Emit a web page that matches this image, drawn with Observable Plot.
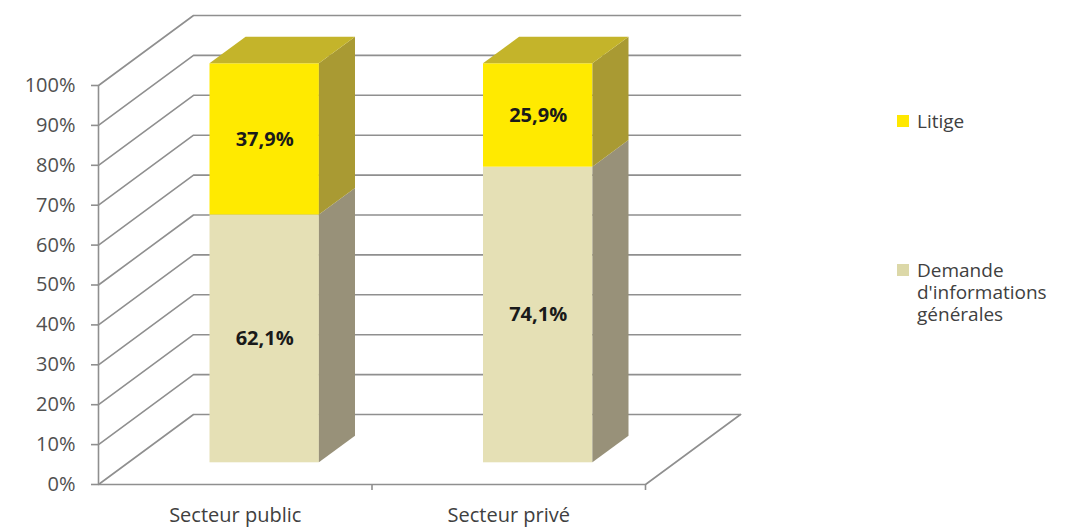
<!DOCTYPE html>
<html>
<head>
<meta charset="utf-8">
<script src="https://cdn.jsdelivr.net/npm/d3@7"></script>
<script src="https://cdn.jsdelivr.net/npm/@observablehq/plot@0.6"></script>
<style>
  html, body { margin: 0; padding: 0; background: #fff; }
  #wrap { position: relative; width: 1087px; height: 529px; font-family: "Open Sans", sans-serif; }
  #legend { position: absolute; left: 897px; top: 0; color: #404040; font-size: 19px; }
  .item { position: absolute; left: 0; display: flex; align-items: flex-start; width: 170px; line-height: 22px; }
  .sw { width: 12px; height: 12px; margin-top: 5px; margin-right: 8px; flex: none; }
  .lab { width: 140px; }
</style>
</head>
<body>
<div id="wrap"><div id="legend"></div></div>
<script>
// ---- data ----
const categories = ["Secteur public", "Secteur privé"];
const seriesNames = ["Demande d'informations générales", "Litige"]; // bottom -> top
const demande = [62.1, 74.1];
const litige = [37.9, 25.9];
const yTicks = [0, 10, 20, 30, 40, 50, 60, 70, 80, 90, 100];

// ---- styles / layout ----
const W = 1087, H = 529;
const mL = 98, mT = 15, mB = 45;
const pxPerCat = 273.5;           // width of one category slot on the front plane
const depthPx = [95, 70];         // oblique depth vector in pixels
const pctPx = 3.99;               // pixels per percentage point
const n = categories.length;
const KX = depthPx[0] / pxPerCat;
const KY = depthPx[1] / pctPx;
const mR = W - mL - (n + KX) * pxPerCat;
const d0 = 0.31, d1 = 0.69;       // bar depth extent (fraction of the floor depth)
const half = 0.2;                 // half bar width, in category units
const colors = {
  "Demande d'informations générales": {front: "#e5e0b5", side: "#989179", top: "#c9c39a", legend: "#dcd8a8"},
  "Litige": {front: "#ffea00", side: "#a99a33", top: "#c4b42a", legend: "#ffe800"}
};
const grid = "#8f8f8f";
const fmt = v => v.toFixed(1).replace(".", ",") + "%";

// ---- derived geometry (data space, projected obliquely) ----
const seriesValues = [demande, litige];
const segments = [];
categories.forEach((c, i) => {
  let base = 0;
  seriesNames.forEach((s, k) => {
    const v = seriesValues[k][i];
    segments.push({cat: c, i, series: s, value: v, base, top: base + v, last: k === seriesNames.length - 1});
    base += v;
  });
});

const gridPts = yTicks.flatMap(t => [
  {t, x: 0, y: t},
  {t, x: KX, y: t + KY},
  {t, x: n + KX, y: t + KY}
]);
const floorPts = [{x: 0, y: 0}, {x: n, y: 0}, {x: n + KX, y: KY}];

const sidePts = segments.flatMap((s, j) => [d0, d1].map(d => ({
  id: j, series: s.series,
  x: s.i + 0.5 + half + d * KX, y1: s.base + d * KY, y2: s.top + d * KY
})));
const topPts = segments.filter(s => s.last).flatMap((s, j) => [d0, d1].map(d => ({
  id: j, series: s.series,
  y: s.top + d * KY, x1: s.i + 0.5 - half + d * KX, x2: s.i + 0.5 + half + d * KX
})));

const chart = Plot.plot({
  width: W, height: H,
  marginLeft: mL, marginRight: mR, marginTop: mT, marginBottom: mB,
  x: {domain: [0, n + KX], axis: null},
  y: {domain: [0, 100 + KY], axis: null},
  style: {fontFamily: "'Open Sans', sans-serif", fontSize: "20px", background: "white", color: "#555555"},
  marks: [
    Plot.line(gridPts, {x: "x", y: "y", z: "t", stroke: grid, strokeWidth: 1.6}),
    Plot.line(floorPts, {x: "x", y: "y", stroke: grid, strokeWidth: 1.6}),
    Plot.ruleX([0], {y1: 0, y2: 100, stroke: grid, strokeWidth: 1.6}),
    Plot.axisY({ticks: yTicks, tickFormat: d => d + "%", tickSize: 7, tickPadding: 16,
      stroke: grid, strokeWidth: 1.6, fill: "#505050", fontSize: 20}),
    Plot.axisX({ticks: d3.range(1, n + 1), tickFormat: () => "", tickSize: 6, stroke: grid, strokeWidth: 1.6}),
    Plot.axisX({ticks: categories.map((_, i) => i + 0.5), tickFormat: v => categories[Math.floor(v)],
      tickSize: 0, tickPadding: 23, fill: "#404040", fontSize: 20}),
    // front faces
    Plot.rect(segments, {
      x1: s => s.i + 0.5 - half + d0 * KX, x2: s => s.i + 0.5 + half + d0 * KX,
      y1: s => s.base + d0 * KY, y2: s => s.top + d0 * KY,
      fill: s => colors[s.series].front
    }),
    // side faces
    Plot.areaY(sidePts, {x: "x", y1: "y1", y2: "y2", z: "id", fill: d => colors[d.series].side}),
    // top faces
    Plot.areaX(topPts, {y: "y", x1: "x1", x2: "x2", z: "id", fill: d => colors[d.series].top}),
    // value labels
    Plot.text(segments, {
      x: s => s.i + 0.5 + d0 * KX, y: s => (s.base + s.top) / 2 + d0 * KY,
      text: s => fmt(s.value), fontWeight: "bold", fontSize: 20, fill: "#1a1a1a"
    })
  ]
});
document.getElementById("wrap").prepend(chart);
chart.style.position = "absolute";
chart.style.left = "0";
chart.style.top = "0";

// ---- legend (top series first) ----
const legendTops = {"Litige": 110, "Demande d'informations générales": 259};
const legend = document.getElementById("legend");
[...seriesNames].reverse().forEach(s => {
  const it = document.createElement("div");
  it.className = "item";
  it.style.top = legendTops[s] + "px";
  const sw = document.createElement("div");
  sw.className = "sw";
  sw.style.background = colors[s].legend;
  const lab = document.createElement("div");
  lab.className = "lab";
  lab.textContent = s;
  it.append(sw, lab);
  legend.append(it);
});
</script>
</body>
</html>
